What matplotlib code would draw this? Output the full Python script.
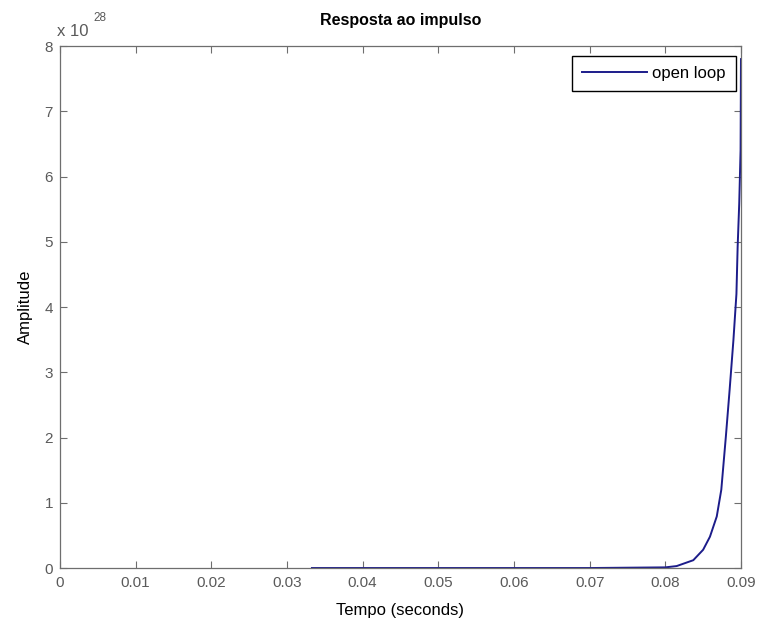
import matplotlib
matplotlib.use("Agg")
import matplotlib.pyplot as plt

plt.rcParams['font.family'] = ['Liberation Sans', 'DejaVu Sans']

# impulse response samples (amplitude in units of 1e28)
tempo = [0.0333, 0.070, 0.0800, 0.0815, 0.0837, 0.0850, 0.0859, 0.0868, 0.0874,
         0.0880, 0.0885, 0.0890, 0.0894, 0.08956, 0.08977, 0.08995, 0.0900]
amplitude = [0.0, 0.0, 0.01, 0.03, 0.12, 0.28, 0.48, 0.79, 1.20,
             2.01, 2.73, 3.49, 4.20, 4.92, 5.59, 6.41, 7.80]

xticks = [0, 0.01, 0.02, 0.03, 0.04, 0.05, 0.06, 0.07, 0.08, 0.09]
xtick_labels = ['0', '0.01', '0.02', '0.03', '0.04', '0.05', '0.06', '0.07', '0.08', '0.09']
yticks = [0, 1, 2, 3, 4, 5, 6, 7, 8]

axis_gray = '#6e6e6e'
label_gray = '#5a5a5a'

fig = plt.figure(figsize=(7.62, 6.24), dpi=100)
ax = fig.add_axes([0.0787, 0.0897, 0.8937, 0.8365])

ax.plot(tempo, amplitude, color='#1c1c8a', linewidth=1.4, label='open loop')

ax.set_xlim(0, 0.09)
ax.set_ylim(0, 8)
ax.set_xticks(xticks)
ax.set_xticklabels(xtick_labels)
ax.set_yticks(yticks)
ax.tick_params(direction='in', length=5, width=0.8, colors=axis_gray,
               labelcolor=label_gray, labelsize=11, top=True, right=True, pad=5)
ax.tick_params(axis='x', pad=6)
for s in ax.spines.values():
    s.set_color(axis_gray)
    s.set_linewidth(0.9)

ax.set_title('Resposta ao impulso', fontsize=11.5, fontweight='bold', pad=15)
ax.set_xlabel('Tempo (seconds)', fontsize=12, labelpad=9)
ax.set_ylabel('Amplitude', fontsize=12, labelpad=8)

# exponent marker above the y axis
fig.text(57 / 762, 1 - 32 / 624, 'x 10', fontsize=12, color=label_gray,
         ha='left', va='center')
fig.text(93 / 762, 1 - 18 / 624, '28', fontsize=8.5, color=label_gray,
         ha='left', va='center')

leg = ax.legend(loc='upper right', fontsize=12, fancybox=False, framealpha=1,
                edgecolor='black', handlelength=3.9, handletextpad=0.35,
                borderpad=0.6, borderaxespad=0,
                bbox_to_anchor=(0.9927, 0.981))
leg.get_frame().set_linewidth(1.0)

fig.savefig('out.png', dpi=100, facecolor='white')
